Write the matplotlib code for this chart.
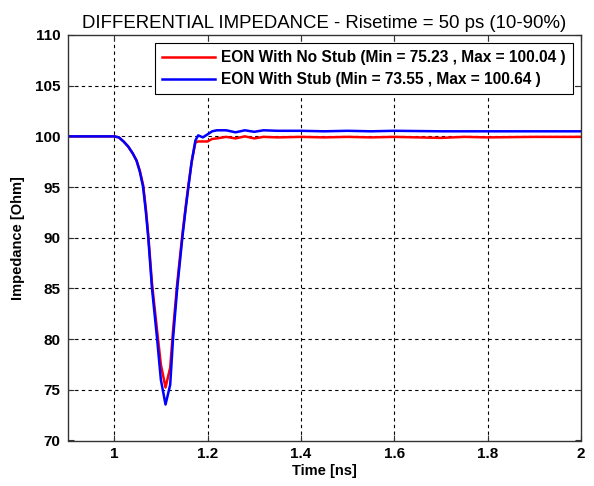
import matplotlib
matplotlib.use("Agg")
import matplotlib.pyplot as plt

plt.rcParams['font.family'] = ['Liberation Sans', 'DejaVu Sans']

t = [0.9, 1.0, 1.01, 1.02, 1.03, 1.04, 1.048, 1.055, 1.062, 1.068, 1.073, 1.081, 1.092, 1.1, 1.11,
     1.12, 1.126, 1.135, 1.146, 1.153, 1.159, 1.166, 1.174, 1.18, 1.19, 1.2, 1.21, 1.22,
     1.24, 1.26, 1.28, 1.3, 1.32, 1.35, 1.4, 1.45, 1.5, 1.55, 1.6, 1.7, 1.75, 1.8, 1.9, 2.0]
blue = [100, 100, 99.9, 99.5, 99.0, 98.3, 97.6, 96.5, 95, 92.5, 90, 85, 80, 76, 73.55,
        75.5, 80, 85, 90, 92.8, 95, 97.5, 99.6, 100.1, 99.9, 100.2, 100.5, 100.6,
        100.6, 100.4, 100.6, 100.45, 100.6, 100.55, 100.55, 100.5, 100.55, 100.5, 100.55, 100.5, 100.5, 100.5, 100.5, 100.5]
red = [100, 100, 99.9, 99.5, 99.0, 98.3, 97.6, 96.6, 95.2, 92.8, 90.3, 85.5, 80.8, 77.5, 75.23,
       77.2, 80.8, 85.5, 90.3, 93.0, 95.2, 97.5, 99.4, 99.5, 99.5, 99.5, 99.75, 99.8,
       99.95, 99.8, 100.0, 99.8, 99.95, 99.9, 99.95, 99.9, 99.95, 99.9, 99.95, 99.85, 99.95, 99.9, 99.95, 99.95]

labels = ["EON With No Stub (Min = 75.23 , Max = 100.04 )",
          "EON With Stub (Min = 73.55 , Max = 100.64 )"]
xticks = [1, 1.2, 1.4, 1.6, 1.8, 2]
xticklabels = ["1", "1.2", "1.4", "1.6", "1.8", "2"]
yticks = [70, 75, 80, 85, 90, 95, 100, 105, 110]

W, H = 594, 486
fig = plt.figure(figsize=(W / 100, H / 100), dpi=100)
ax = fig.add_axes([67.5 / W, 1 - 440.5 / H, (581 - 67.5) / W, (440.5 - 35) / H])
ax.plot(t, red, color="red", lw=1.8, label=labels[0])
ax.plot(t, blue, color="blue", lw=1.8, label=labels[1])
ax.set_xlim(0.9, 2)
ax.set_ylim(70, 110)
ax.set_xticks(xticks)
ax.set_xticklabels(xticklabels)
ax.set_yticks(yticks)
ax.grid(True, color="black", linestyle=(0, (3, 3)), linewidth=0.8)
gl_y = ax.yaxis.get_gridlines()
gl_y[0].set_visible(False)
gl_y[-1].set_visible(False)
ax.xaxis.get_gridlines()[-1].set_visible(False)
ax.tick_params(direction="in", labelsize=11, length=4, pad=5,
               top=True, right=True, color="#333333")
for lab in ax.get_xticklabels() + ax.get_yticklabels():
    lab.set_fontweight("bold")
ax.set_xlabel("Time [ns]", fontsize=10.5, fontweight="bold", labelpad=2)
ax.set_ylabel("Impedance [Ohm]", fontsize=10.5, fontweight="bold", labelpad=7)
ax.set_title("DIFFERENTIAL IMPEDANCE - Risetime = 50 ps (10-90%)", fontsize=13.4, pad=5)
for s in ax.spines.values():
    s.set_color("#333333")
    s.set_linewidth(1.0)
    s.set_zorder(3)
leg = ax.legend(loc="upper right", bbox_to_anchor=(573 / W, 1 - 43 / H),
                bbox_transform=fig.transFigure,
                prop={"weight": "bold", "size": 11.2},
                fancybox=False, edgecolor="black", framealpha=1,
                borderaxespad=0, handlelength=3.4, handletextpad=0.4,
                borderpad=0.45, labelspacing=0.45)
leg.get_frame().set_linewidth(0.8)
fig.savefig("out.png", dpi=100, facecolor="white")
